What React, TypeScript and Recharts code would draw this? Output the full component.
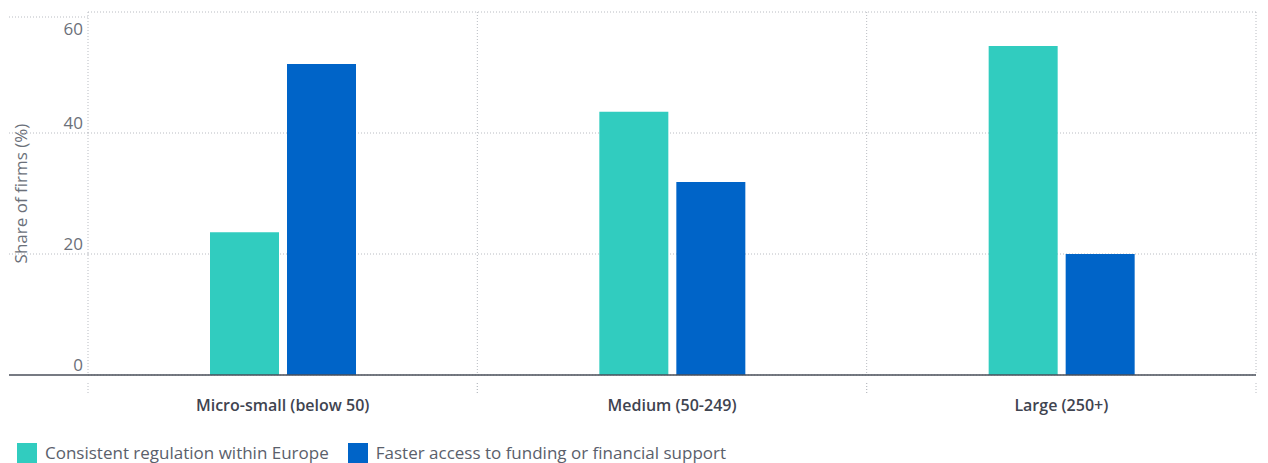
import React from "react";
import { BarChart, Bar, XAxis, YAxis, CartesianGrid, Legend } from "recharts";

const categories = ["Micro-small (below 50)", "Medium (50-249)", "Large (250+)"];
const regulation = [23.6, 43.5, 54.4];
const funding = [51.4, 31.9, 20.0];
const yTicks = [0, 20, 40, 60];

const seriesNames = {
  regulation: "Consistent regulation within Europe",
  funding: "Faster access to funding or financial support",
};

const COLORS = { regulation: "#31ccbf", funding: "#0064c8" };
const FONT = "'Open Sans', sans-serif";
const GRID = "#b9bcc2";

const data = categories.map((name, i) => ({
  name,
  regulation: regulation[i],
  funding: funding[i],
}));

function YTick(props: any) {
  const { x, y, payload } = props;
  const v = payload.value;
  const isZero = v === 0;
  return (
    <g>
      <line
        x1={x - 79}
        x2={x}
        y1={y}
        y2={y}
        stroke={isZero ? "#4a4f5a" : GRID}
        strokeWidth={isZero ? 1.5 : 1}
        strokeDasharray={isZero ? undefined : "1 2"}
      />
      <text
        x={x - 5}
        y={y}
        dy={v === 60 ? 18 : -4}
        textAnchor="end"
        fill="#6b7079"
        fontSize={17}
        fontFamily={FONT}
      >
        {v}
      </text>
    </g>
  );
}

function XTick(props: any) {
  const { x, y, payload } = props;
  const half = payload.offset ?? 0;
  return (
    <g>
      <line x1={x - half} x2={x - half} y1={y} y2={y + 12} stroke={GRID} strokeDasharray="1 2" />
      <line x1={x + half} x2={x + half} y1={y} y2={y + 12} stroke={GRID} strokeDasharray="1 2" />
      <text
        x={x}
        y={y + 28}
        textAnchor="middle"
        fill="#3f4450"
        fontSize={16}
        fontWeight={600}
        fontFamily={FONT}
      >
        {payload.value}
      </text>
    </g>
  );
}

function YLabel(props: any) {
  const { viewBox } = props;
  const cy = viewBox.y + viewBox.height / 2;
  return (
    <text
      x={12}
      y={cy}
      transform={`rotate(-90 12 ${cy})`}
      textAnchor="middle"
      dominantBaseline="central"
      fill="#6b7079"
      fontSize={17}
      fontFamily={FONT}
    >
      Share of firms (%)
    </text>
  );
}

function LegendContent() {
  const items = [
    { key: "regulation", label: seriesNames.regulation },
    { key: "funding", label: seriesNames.funding },
  ] as const;
  return (
    <div style={{ display: "flex", height: 20, paddingLeft: 8, fontFamily: FONT }}>
      {items.map((it) => (
        <div key={it.key} style={{ display: "flex", alignItems: "center", marginRight: 19 }}>
          <span
            style={{
              width: 20,
              height: 20,
              background: COLORS[it.key],
              display: "inline-block",
              marginRight: 8,
            }}
          />
          <span style={{ fontSize: 17, color: "#5a606b", lineHeight: "20px", whiteSpace: "nowrap" }}>
            {it.label}
          </span>
        </div>
      ))}
    </div>
  );
}

export default function App() {
  return (
    <BarChart
      width={1252}
      height={455}
      data={data}
      margin={{ top: 4, right: 4, bottom: 0, left: 1 }}
      barGap={8}
      barSize={69}
    >
      <CartesianGrid
        stroke={GRID}
        strokeDasharray="1 2"
        horizontal={true}
        vertical={true}
        verticalCoordinatesGenerator={({ offset }: any) =>
          [0, 1, 2, 3].map((i) => offset.left + (i * offset.width) / 3)
        }
      />
      <XAxis
        dataKey="name"
        height={68}
        axisLine={{ stroke: "#4a4f5a", strokeWidth: 1.5 }}
        tickLine={false}
        tick={<XTick />}
        interval={0}
      />
      <YAxis
        width={79}
        domain={[0, 60]}
        ticks={yTicks}
        axisLine={false}
        tickLine={false}
        tickSize={0}
        tickMargin={0}
        tick={<YTick />}
        label={<YLabel />}
      />
      <Legend verticalAlign="bottom" align="left" content={<LegendContent />} wrapperStyle={{ height: 20 }} />
      <Bar dataKey="regulation" name={seriesNames.regulation} fill={COLORS.regulation} isAnimationActive={false} />
      <Bar dataKey="funding" name={seriesNames.funding} fill={COLORS.funding} isAnimationActive={false} />
    </BarChart>
  );
}
